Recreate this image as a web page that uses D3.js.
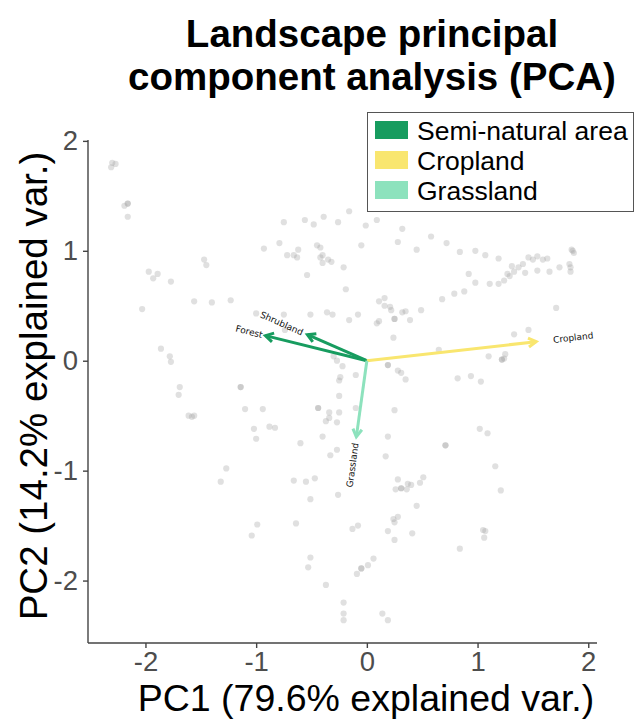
<!DOCTYPE html>
<html><head><meta charset="utf-8">
<script src="https://cdn.jsdelivr.net/npm/d3@7"></script>
<style>body{margin:0;background:#fff}</style>
</head><body><svg id="c" width="635" height="720"></svg>
<script>
// ---- data ----
const titleLines = ["Landscape principal", "component analysis (PCA)"];
const xLabel = "PC1 (79.6% explained var.)";
const yLabel = "PC2 (14.2% explained var.)";
const xTicks = [-2, -1, 0, 1, 2];
const yTicks = [-2, -1, 0, 1, 2];

const siteScores = [
[-2.30,1.80],[-2.27,1.79],[-2.31,1.76],
[-2.16,1.43],[-2.16,1.43],[-2.19,1.41],[-2.16,1.31],
[-1.47,0.92],[-1.45,0.87],
[-1.97,0.81],[-1.89,0.79],[-1.93,0.75],[-1.77,0.72],
[-1.56,0.54],[-1.40,0.53],[-1.23,0.55],[-2.03,0.47],[-1.00,0.43],
[-0.16,1.36],[-0.75,1.26],[-0.56,1.28],[-0.48,1.24],[-0.39,1.31],[-0.26,1.26],[-0.01,1.23],[0.09,1.28],[0.32,1.20],
[-0.93,1.02],[-0.79,1.07],[-0.72,0.96],[-0.66,0.96],[-0.63,0.94],[-0.62,1.01],[-0.45,1.05],[-0.42,1.03],[-0.40,0.96],[-0.42,0.94],[-0.35,0.92],[-0.32,0.90],[-0.40,0.89],[-0.05,1.05],[0.28,1.08],[0.45,1.01],
[-0.54,0.78],[-0.21,0.85],[-0.19,0.65],[0.16,0.57],
[0.58,1.13],[0.72,1.07],[0.84,0.99],[0.98,1.00],[1.07,0.96],[1.19,0.93],[0.92,0.79],[0.98,0.71],[1.11,0.70],[1.19,0.70],[1.24,0.73],[1.27,0.79],[1.29,0.77],[1.31,0.86],[1.33,0.81],[1.37,0.85],[1.41,0.88],[1.43,0.80],[1.46,0.94],[1.50,0.92],[1.54,0.95],[1.59,0.92],[1.63,0.93],[1.54,0.82],[1.65,0.81],[1.74,0.85],[1.83,0.88],[1.84,0.85],[1.84,0.81],[1.85,1.01],[1.87,0.98],[1.86,1.00],[0.79,0.61],[0.88,0.63],[0.68,0.56],
[-1.86,0.11],[-1.78,0.04],[-1.77,-0.01],[-1.69,-0.24],[-1.70,-0.31],[-1.61,-0.50],[-1.58,-0.51],[-1.56,-0.50],[-1.14,-0.24],[-1.14,-0.24],[-1.10,-0.44],[-1.02,-0.62],[-1.00,-0.71],[-1.27,-0.98],
[0.11,0.54],[0.16,0.50],[0.21,0.49],[0.22,0.46],[0.32,0.44],[0.35,0.45],[0.49,0.46],
[-0.75,0.42],[-0.51,0.42],[-0.36,0.44],[-0.31,0.42],[-0.08,0.42],[-0.16,0.37],[0.09,0.34],[0.11,0.36],[0.25,0.38],[0.25,0.38],[0.39,0.37],[-0.74,0.28],[0.24,0.21],
[-0.30,0.04],[-0.27,0.00],[-0.22,-0.05],[0.19,-0.04],[0.19,-0.04],[-0.10,-0.13],[-0.24,-0.15],[-0.25,-0.18],[0.28,-0.09],[0.31,-0.11],[0.35,-0.17],
[-0.25,-0.32],[-0.94,-0.44],[-0.44,-0.43],[-0.44,-0.43],[-0.34,-0.47],[-0.25,-0.47],[-0.10,-0.43],[0.25,-0.45],[-0.34,-0.52],[-0.37,-0.55],[-0.27,-0.56],[-0.88,-0.60],[-0.83,-0.61],[-0.40,-0.69],[0.19,-0.69],[-0.60,-0.75],[-0.27,-0.81],[-0.33,-0.86],[0.17,-0.87],
[1.71,0.48],[1.33,0.24],[1.46,0.28],[0.65,0.10],[1.10,0.04],[1.25,0.06],[1.22,0.01],[1.22,0.01],[1.24,0.02],[0.82,-0.16],[0.94,-0.14],[1.03,-0.19],[1.02,-0.62],[1.09,-0.66],[0.71,-0.77],[0.71,-0.77],[1.16,-0.96],
[-1.32,-1.10],[-0.99,-1.49],[-1.04,-1.59],
[-0.66,-1.09],[-0.55,-1.10],[-0.47,-1.07],[-0.51,-1.26],[-0.26,-1.22],[0.28,-1.08],[0.26,-1.17],[0.31,-1.16],[0.31,-1.16],[0.36,-1.17],[0.37,-1.12],[0.40,-1.13],[0.48,-1.11],[0.51,-1.06],
[-0.64,-1.48],[-0.13,-1.53],[-0.08,-1.50],[0.24,-1.44],[0.28,-1.42],[0.25,-1.47],[0.19,-1.55],[0.41,-1.57],[0.25,-1.63],[0.45,-1.32],
[-0.51,-1.79],[-0.53,-1.88],[0.06,-1.80],[0.01,-1.86],[-0.05,-1.89],[-0.05,-1.89],[-0.09,-1.94],[-0.37,-2.04],
[-0.21,-2.20],[-0.21,-2.30],[-0.21,-2.36],[0.14,-2.30],[0.19,-2.36],
[1.21,-1.18],[1.05,-1.54],[1.07,-1.55],[1.06,-1.61],[0.84,-1.71]
];

const varNames = ["Forest", "Shrubland", "Cropland", "Grassland"];
const varPC1 = [-0.916, -0.537, 1.530, -0.095];
const varPC2 = [0.228, 0.237, 0.173, -0.693];
const varGroup = ["Semi-natural area", "Semi-natural area", "Cropland", "Grassland"];
const groups = ["Semi-natural area", "Cropland", "Grassland"];
const groupColors = ["#179c5f", "#f9e66f", "#8de2bd"];

// ---- style / layout ----
const panel = {left: 88, right: 597, top: 140, bottom: 643};
const labelGap = [3, 5, 17, 6];
const FONT = "'Liberation Sans', Arial, sans-serif";

const svg = d3.select("#c");

function expand(ext) { const r = ext[1] - ext[0]; return [ext[0] - 0.05 * r, ext[1] + 0.05 * r]; }
const x = d3.scaleLinear().domain(expand(d3.extent(siteScores, d => d[0]))).range([panel.left, panel.right]);
const y = d3.scaleLinear().domain(expand(d3.extent(siteScores, d => d[1]))).range([panel.bottom, panel.top]);
const color = d3.scaleOrdinal().domain(groups).range(groupColors);

// points
svg.append("g").selectAll("circle").data(siteScores).join("circle")
  .attr("cx", d => x(d[0])).attr("cy", d => y(d[1])).attr("r", 3.1)
  .attr("fill", "#a0a0a0").attr("fill-opacity", 0.33);

// arrows
const vars = varNames.map((n, i) => ({name: n, vx: varPC1[i], vy: varPC2[i], g: varGroup[i], gap: labelGap[i]}));
const ag = svg.append("g");
vars.forEach(v => {
  const x0 = x(0), y0 = y(0), x1 = x(v.vx), y1 = y(v.vy);
  const ang = Math.atan2(y1 - y0, x1 - x0);
  const L = 9, a = Math.PI / 6;
  const c = color(v.g);
  ag.append("line").attr("x1", x0).attr("y1", y0).attr("x2", x1).attr("y2", y1)
    .attr("stroke", c).attr("stroke-width", 3);
  ag.append("path")
    .attr("d", `M${x1 - L * Math.cos(ang - a)},${y1 - L * Math.sin(ang - a)}L${x1},${y1}L${x1 - L * Math.cos(ang + a)},${y1 - L * Math.sin(ang + a)}`)
    .attr("fill", "none").attr("stroke", c).attr("stroke-width", 3).attr("stroke-linejoin", "miter").attr("stroke-linecap", "butt");
});
// arrow labels
vars.forEach(v => {
  const deg = Math.atan(v.vy / v.vx) * 180 / Math.PI;
  const pos = v.vx >= 0;
  svg.append("text")
    .attr("transform", `translate(${x(v.vx)},${y(v.vy)}) rotate(${-deg})`)
    .attr("x", pos ? v.gap : -v.gap).attr("dy", "0.35em")
    .attr("text-anchor", pos ? "start" : "end")
    .attr("font-family", "'DejaVu Sans', sans-serif").attr("font-size", 9).attr("fill", "#111")
    .text(v.name);
});

// axes
const xAxis = svg.append("g").attr("transform", `translate(0,${panel.bottom})`)
  .call(d3.axisBottom(x).tickValues(xTicks).tickFormat(d => String(d)).tickSizeInner(5).tickSizeOuter(0).tickPadding(3));
const yAxis = svg.append("g").attr("transform", `translate(${panel.left},0)`)
  .call(d3.axisLeft(y).tickValues(yTicks).tickFormat(d => String(d)).tickSizeInner(5).tickSizeOuter(0).tickPadding(5));
[xAxis, yAxis].forEach(g => {
  g.select(".domain").attr("stroke", "#444").attr("stroke-width", 1.4);
  g.selectAll(".tick line").attr("stroke", "#444").attr("stroke-width", 1.4);
  g.selectAll(".tick text").attr("font-family", FONT).attr("font-size", 27.5).attr("fill", "#4d4d4d");
});
xAxis.selectAll(".domain").attr("d", `M${panel.left},0H${panel.right}`);
yAxis.selectAll(".domain").attr("d", `M0,${panel.top}V${panel.bottom}`);

// axis titles
svg.append("text").attr("x", 366).attr("y", 711).attr("text-anchor", "middle")
  .attr("font-family", FONT).attr("font-size", 37.5).attr("fill", "#000").text(xLabel);
svg.append("text").attr("transform", `translate(47,386) rotate(-90)`).attr("text-anchor", "middle")
  .attr("font-family", FONT).attr("font-size", 38.5).attr("fill", "#000").text(yLabel);

// title
svg.append("g").selectAll("text").data(titleLines).join("text")
  .attr("x", 372).attr("y", (d, i) => 47 + i * 43).attr("text-anchor", "middle")
  .attr("font-family", FONT).attr("font-weight", "bold").attr("font-size", 38.5).attr("fill", "#000")
  .text(d => d);

// legend
const lg = svg.append("g");
lg.append("rect").attr("x", 367.5).attr("y", 112.5).attr("width", 266).attr("height", 99)
  .attr("fill", "#fff").attr("stroke", "#555").attr("stroke-width", 1);
groups.forEach((g, i) => {
  const cy = 130 + i * 30;
  lg.append("rect").attr("x", 375).attr("y", cy - 9).attr("width", 33).attr("height", 18).attr("fill", color(g));
  lg.append("text").attr("x", 417).attr("y", cy + 9.5).attr("font-family", FONT).attr("font-size", 26.5).attr("fill", "#000").text(g);
});
</script></body></html>
